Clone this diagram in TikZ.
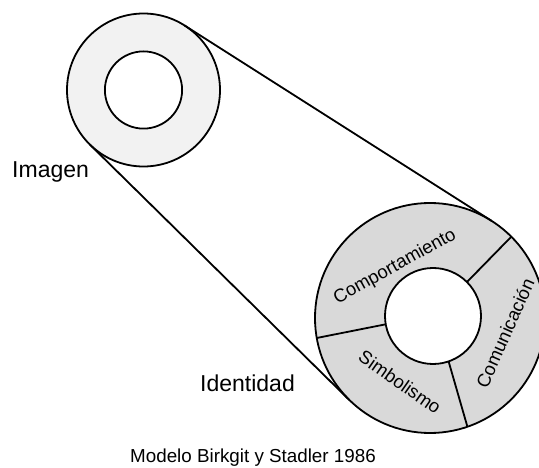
\documentclass[tikz,border=0pt]{standalone}
\usepackage{fontspec}
\setmainfont{Liberation Sans}
\begin{document}
\begin{tikzpicture}[x=1pt,y=-1pt,
  ringline/.style={draw=black,line width=1.8pt},
  lbl/.style={inner sep=0pt,font=\fontsize{23}{27}\selectfont},
  seglbl/.style={inner sep=0pt,font=\fontsize{18.5}{22}\selectfont},
  caption/.style={inner sep=0pt,font=\fontsize{18.8}{22}\selectfont}]
\clip (0,0) rectangle (539,468);
% centers
\coordinate (C1) at (143.5,90);
\coordinate (C2) at (430,318);
\coordinate (I2) at (433,316);
% tangent points
\coordinate (T1a) at (184.6,25.5);
\coordinate (T1b) at (491.8,221.0);
\coordinate (T2a) at (89.8,144.5);
\coordinate (T2b) at (349.3,400.0);
% divider end points
\coordinate (D1i) at (466.9,282.1);
\coordinate (D1o) at (511.3,236.7);
\coordinate (D2i) at (385.7,324.3);
\coordinate (D2o) at (316.7,338.0);
\coordinate (D3i) at (448.6,361.4);
\coordinate (D3o) at (467.4,426.7);
% top ring (Imagen)
\fill[fill={rgb,255:red,242;green,242;blue,242},ringline] (C1) circle[radius=76.5];
\fill[fill=white,ringline] (C1) circle[radius=38.6];
% bottom ring (Identidad)
\fill[fill={rgb,255:red,217;green,217;blue,217},ringline] (C2) circle[radius=115];
\fill[fill=white,ringline] (I2) circle[radius=48];
\draw[ringline] (D1i) -- (D1o);
\draw[ringline] (D2i) -- (D2o);
\draw[ringline] (D3i) -- (D3o);
% tangents
\draw[ringline] (T1a) -- (T1b);
\draw[ringline] (T2a) -- (T2b);
% labels
\node[lbl,anchor=base west] (imagen) at (12,178) {Imagen};
\node[lbl,anchor=base west] (identidad) at (200,391.5) {Identidad};
\node[caption,anchor=base west] (caption) at (130,462) {Modelo Birkgit y Stadler 1986};
\node[seglbl,rotate=29] (comp) at (395,267) {Comportamiento};
\node[seglbl,rotate=66] (comu) at (505,333) {Comunicación};
\node[seglbl,rotate=-35] (simb) at (400,382) {Simbolismo};
\end{tikzpicture}
\end{document}
